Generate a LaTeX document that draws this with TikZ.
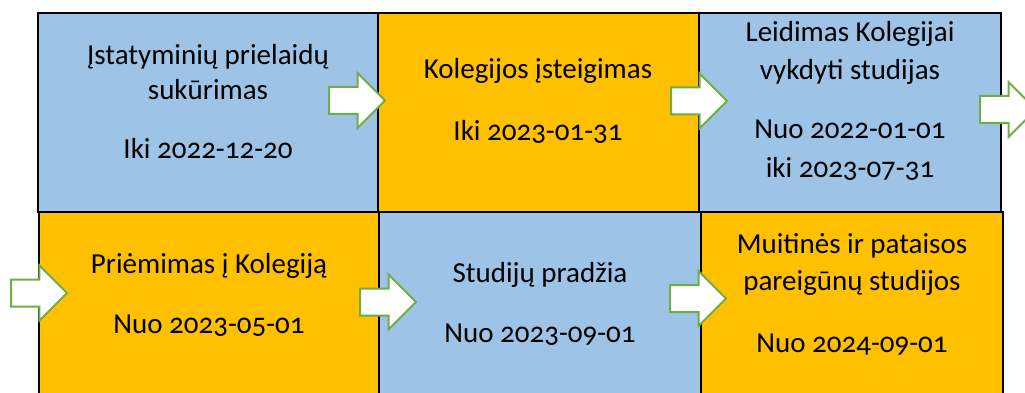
\documentclass[tikz,border=0pt]{standalone}
\usepackage{fontspec}
\setmainfont{Carlito}[Numbers=OldStyle]
\usetikzlibrary{shapes.arrows}
\definecolor{cellblue}{HTML}{9DC3E6}
\definecolor{cellgold}{HTML}{FFC000}
\definecolor{arrowgreen}{HTML}{70AD47}

\begin{document}
\begin{tikzpicture}[x=1pt,y=-1pt,
    cell/.style={draw=black,line width=1.8pt,inner sep=0pt},
    lbl/.style={anchor=base,inner sep=0pt,font=\fontsize{29}{34}\selectfont},
    goarrow/.style={single arrow,draw=arrowgreen,fill=white,line width=2pt,anchor=tail,
      minimum height=56pt,single arrow head extend=14pt,inner sep=12.5pt}]
    \useasboundingbox (0,0) rectangle (1025,393);
    \clip (0,0) rectangle (1025,393);

    % top row
    \node[cell,fill=cellblue,minimum width=340pt,minimum height=199pt] (b1) at (208,112.5) {};
    \node[cell,fill=cellgold,minimum width=321pt,minimum height=199pt] (b2) at (538.5,112.5) {};
    \node[cell,fill=cellblue,minimum width=302pt,minimum height=199pt] (b3) at (850,112.5) {};
    % bottom row
    \node[cell,fill=cellgold,minimum width=340pt,minimum height=200pt] (b4) at (209,312) {};
    \node[cell,fill=cellblue,minimum width=322pt,minimum height=200pt] (b5) at (540,312) {};
    \node[cell,fill=cellgold,minimum width=302pt,minimum height=200pt] (b6) at (852,312) {};

    \node[lbl] (t1a) at (208,65)  {Įstatyminių prielaidų};
    \node[lbl] (t1b) at (208,100) {sukūrimas};
    \node[lbl] (d1)  at (208,158) {Iki 2022-12-20};

    \node[lbl] (t2a) at (538,79)  {Kolegijos įsteigimas};
    \node[lbl] (d2)  at (538,140) {Iki 2023-01-31};

    \node[lbl] (t3a) at (850,42)  {Leidimas Kolegijai};
    \node[lbl] (t3b) at (850,80)  {vykdyti studijas};
    \node[lbl] (d3a) at (850,139) {Nuo 2022-01-01};
    \node[lbl] (d3b) at (850,177) {iki 2023-07-31};

    \node[lbl] (t4a) at (209,273) {Priėmimas į Kolegiją};
    \node[lbl] (d4)  at (209,333) {Nuo 2023-05-01};

    \node[lbl] (t5a) at (540,282) {Studijų pradžia};
    \node[lbl] (d5)  at (540,342) {Nuo 2023-09-01};

    \node[lbl] (t6a) at (852,253) {Muitinės ir pataisos};
    \node[lbl] (t6b) at (852,290) {pareigūnų studijos};
    \node[lbl] (d6)  at (852,352) {Nuo 2024-09-01};

    % block arrows
    \node[goarrow] (a1) at (328,100.5) {};
    \node[goarrow] (a2) at (670,101)   {};
    \node[goarrow] (a3) at (979,109.5) {};
    \node[goarrow] (a4) at (10,293)    {};
    \node[goarrow] (a5) at (359,302)   {};
    \node[goarrow] (a6) at (669,298.5) {};
  \end{tikzpicture}
\end{document}
